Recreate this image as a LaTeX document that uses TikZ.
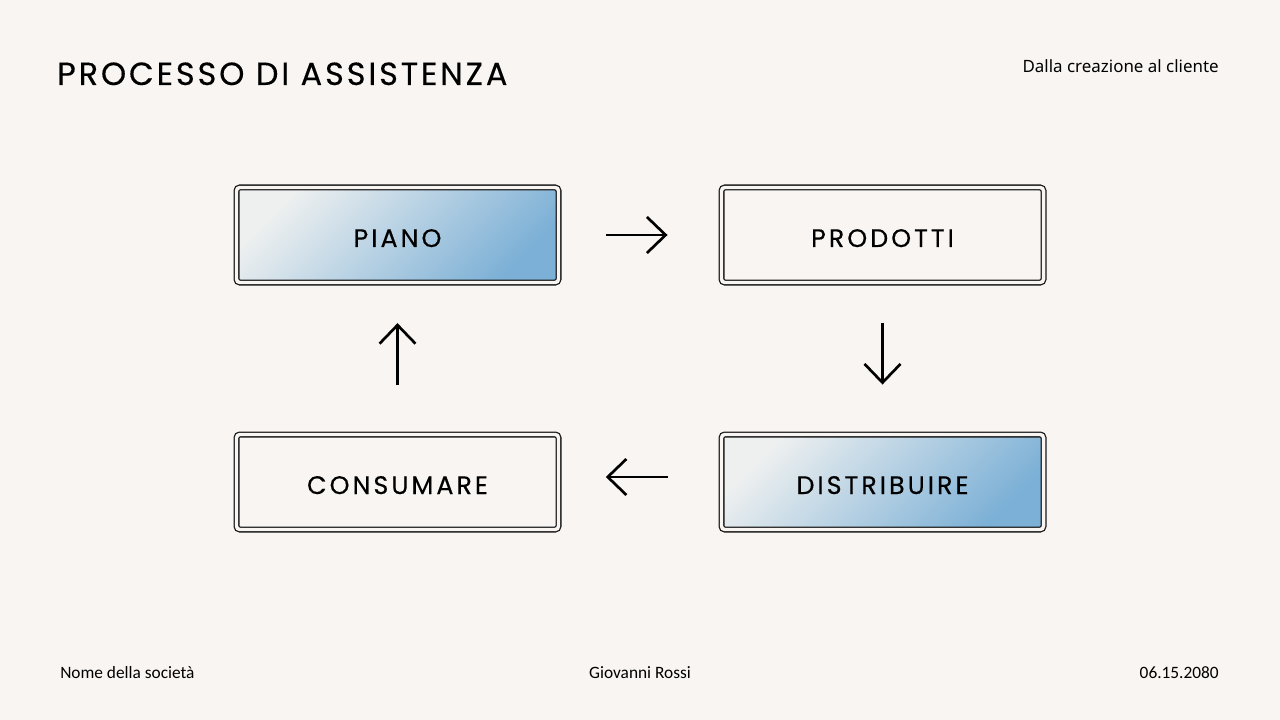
\documentclass[tikz,border=0pt]{standalone}
\usepackage{fontspec}
\setmainfont{Noto Sans}
\newfontfamily\stepfont[LetterSpace=12,FakeBold=0.4]{Poppins}
\newfontfamily\titlefont[LetterSpace=9,FakeBold=0.3]{Poppins}
\newfontfamily\footfont{Carlito}
\usetikzlibrary{arrows.meta}

\begin{document}
\begin{tikzpicture}[x=0.75pt,y=-0.75pt,
    stepbox/.style={shape=rectangle,draw=black!90,line width=0.95pt,double=pagebg,double distance=2.6pt,rounded corners=2.5pt,minimum width=241.5pt,minimum height=71.25pt,text height=18pt,text depth=0pt,font=\stepfont\fontsize{19}{22}\selectfont},
    stepboxB/.style={stepbox,left color=stepblueA,middle color=stepblueB,right color=stepblueC,shading angle=45},
    flow/.style={line width=2pt,-{Straight Barb[length=14pt,width=27pt]}}]
    \definecolor{pagebg}{RGB}{249,245,242}
    \definecolor{stepblueA}{RGB}{238,240,240}
    \definecolor{stepblueB}{RGB}{200,220,233}
    \definecolor{stepblueC}{RGB}{124,176,214}
    % page
    \fill[pagebg] (0,0) rectangle (1280,720);
    \useasboundingbox (0,0) rectangle (1280,720);
    % header and footer
    \node[anchor=base west,inner sep=0pt,font=\titlefont\fontsize{24}{28}\selectfont] (title) at (57,85) {PROCESSO DI ASSISTENZA};
    \node[anchor=base east,inner sep=0pt,font=\fontsize{12.7}{16}\selectfont] (subtitle) at (1219,73) {Dalla creazione al cliente};
    \node[anchor=base west,inner sep=0pt,font=\footfont\fontsize{13}{16}\selectfont] (company) at (60,678) {Nome della società};
    \node[anchor=base,inner sep=0pt,font=\footfont\fontsize{13}{16}\selectfont] (presenter) at (640,678) {Giovanni Rossi};
    \node[anchor=base east,inner sep=0pt,font=\footfont\fontsize{13}{16}\selectfont] (date) at (1219,678) {06.15.2080};
    % steps
    \node[stepboxB] (piano) at (397.5,235) {PIANO};
    \node[stepbox]  (prodotti) at (882.5,235) {PRODOTTI};
    \node[stepboxB] (distribuire) at (882.5,482) {DISTRIBUIRE};
    \node[stepbox]  (consumare) at (397.5,482) {CONSUMARE};
    % cycle
    \draw[flow,shorten <=35pt,shorten >=40pt] (piano.east) -- (prodotti.west);
    \draw[flow,shorten <=30pt,shorten >=37pt] (prodotti.south) -- (distribuire.north);
    \draw[flow,shorten <=40pt,shorten >=35pt] ([yshift=3.75pt]distribuire.west) -- ([yshift=3.75pt]consumare.east);
    \draw[flow,shorten <=37pt,shorten >=30pt] (consumare.north) -- (piano.south);
\end{tikzpicture}
\end{document}
